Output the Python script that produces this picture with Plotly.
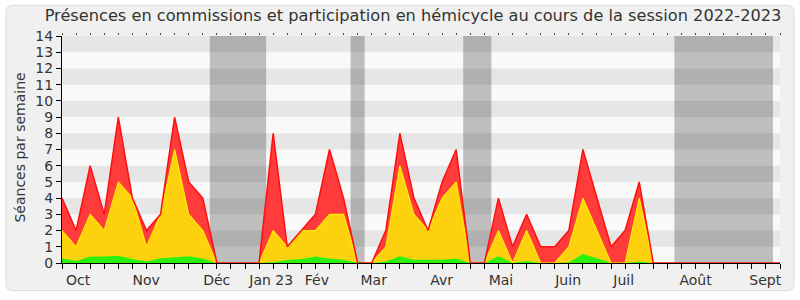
import plotly.graph_objects as go

# ---- data (weekly values, week index 0..51) ----
weeks = list(range(52))
total = [4, 2, 6, 3, 9, 4, 2, 3, 9, 5, 4, 0, 0, 0, 0, 8, 1, 2, 3, 7, 4, 0, 0, 2, 8, 4,
         2, 5, 7, 0, 0, 4, 1, 3, 1, 1, 2, 7, 4, 1, 2, 5, 0, 0, 0, 0, 0, 0, 0, 0, 0, 0]
hemicycle = [2, 1, 3, 2, 5, 4, 1, 3, 7, 3, 2, 0, 0, 0, 0, 2, 1, 2, 2, 3, 3, 0, 0, 1, 6, 3,
             2, 4, 5, 0, 0, 2, 0, 2, 0, 0, 1, 4, 2, 0, 0, 4, 0, 0, 0, 0, 0, 0, 0, 0, 0, 0]
interventions = [0.3, 0.12, 0.4, 0.4, 0.45, 0.25, 0.1, 0.3, 0.35, 0.42, 0.28, 0, 0, 0, 0,
                 0.05, 0.18, 0.25, 0.4, 0.28, 0.2, 0, 0, 0.1, 0.42, 0.2, 0.2, 0.2, 0.28,
                 0, 0, 0.42, 0, 0.12, 0, 0, 0.05, 0.55, 0.3, 0, 0, 0.1,
                 0, 0, 0, 0, 0, 0, 0, 0, 0, 0]
month_pos = [1.14, 5.98, 10.99, 14.86, 18.1, 22.14, 26.96, 31.18, 35.95, 39.9, 45.0, 49.95]
month_labels = ["Oct", "Nov", "Déc", "Jan 23", "Fév", "Mar", "Avr", "Mai", "Juin", "Juil", "Août", "Sept"]
vacations = [(10.5, 14.5), (20.5, 21.5), (28.5, 30.5), (43.5, 50.5)]

W, H = 800, 300
L, R, T, B = 62, 20, 36, 34
PW, PH = W - L - R, H - T - B
FONT = "DejaVu Sans"
TXT = "#333333"


def px2paper(px, py):
    return (px - L) / PW, (H - B - py) / PH


fig = go.Figure()
# filled areas
fig.add_trace(go.Scatter(x=weeks, y=total, mode="lines", fill="tozeroy",
                         line=dict(color="#ff3b3b", width=0), fillcolor="#ff3b3b",
                         hoverinfo="skip", showlegend=False))
fig.add_trace(go.Scatter(x=weeks, y=hemicycle, mode="lines", fill="tozeroy",
                         line=dict(color="#fdd10d", width=0), fillcolor="#fdd10d",
                         hoverinfo="skip", showlegend=False))
fig.add_trace(go.Scatter(x=weeks, y=interventions, mode="lines", fill="tozeroy",
                         line=dict(color="#2cf00e", width=0), fillcolor="#2cf00e",
                         hoverinfo="skip", showlegend=False))
# edge lines
fig.add_trace(go.Scatter(x=weeks, y=hemicycle, mode="lines",
                         line=dict(color="#ffec00", width=1.2),
                         hoverinfo="skip", showlegend=False))
fig.add_trace(go.Scatter(x=weeks, y=total, mode="lines",
                         line=dict(color="#ff1010", width=1.5),
                         hoverinfo="skip", showlegend=False))
# helper traces so overlay axes render
fig.add_trace(go.Scatter(x=[0], y=[0], xaxis="x2", mode="markers", marker=dict(opacity=0),
                         hoverinfo="skip", showlegend=False))
fig.add_trace(go.Scatter(x=[0], y=[0], xaxis="x3", mode="markers", marker=dict(opacity=0),
                         hoverinfo="skip", showlegend=False))

shapes = []
# outer rounded frame
x0, y0 = 6, 5
x1, y1 = 794, 294
r = 7
def P(px, py):
    a, b = px2paper(px, py)
    return f"{a:.5f},{b:.5f}"
path = (f"M {P(x0 + r, y0)} L {P(x1 - r, y0)} Q {P(x1, y0)} {P(x1, y0 + r)} "
        f"L {P(x1, y1 - r)} Q {P(x1, y1)} {P(x1 - r, y1)} "
        f"L {P(x0 + r, y1)} Q {P(x0, y1)} {P(x0, y1 - r)} "
        f"L {P(x0, y0 + r)} Q {P(x0, y0)} {P(x0 + r, y0)} Z")
shapes.append(dict(type="path", path=path, xref="paper", yref="paper", layer="below",
                   fillcolor="#f0f0f0", line=dict(color="#dadada", width=1)))
# plot area background + stripes
shapes.append(dict(type="rect", xref="paper", yref="paper", x0=0, x1=1, y0=0, y1=1,
                   layer="below", fillcolor="#f9f9f9", line=dict(width=0)))
for k in range(1, 14, 2):
    shapes.append(dict(type="rect", xref="paper", yref="y", x0=0, x1=1, y0=k, y1=k + 1,
                       layer="below", fillcolor="#e6e6e6", line=dict(width=0)))
for a, b in vacations:
    shapes.append(dict(type="rect", xref="x", yref="paper", x0=a, x1=b, y0=0, y1=1,
                       layer="below", fillcolor="rgba(25,25,25,0.26)", line=dict(width=0)))

fig.update_layout(
    width=W, height=H,
    margin=dict(l=L, r=R, t=T, b=B, pad=0),
    paper_bgcolor="white", plot_bgcolor="#f9f9f9",
    font=dict(family=FONT, size=14, color=TXT),
    title=dict(text="Présences en commissions et participation en hémicycle au cours de la session 2022-2023",
               x=413 / W, xanchor="center", xref="container", y=1 - 15 / H, yanchor="middle",
               yref="container", font=dict(family=FONT, size=16.2, color=TXT)),
    shapes=shapes,
    xaxis=dict(range=[0, 51], tickmode="array", tickvals=weeks, ticktext=[""] * len(weeks),
               ticks="outside", ticklen=5, tickcolor="black", tickwidth=1, layer="below traces",
               showline=True, linecolor="black", linewidth=1, showgrid=False, zeroline=False,
               fixedrange=True),
    xaxis2=dict(range=[0, 51], overlaying="x", side="bottom", anchor="y", tickmode="array",
                tickvals=month_pos, ticktext=month_labels, ticks="outside", ticklen=4,
                tickcolor="rgba(0,0,0,0)", showline=False, showgrid=False, zeroline=False,
                tickfont=dict(family=FONT, size=14, color=TXT)),
    xaxis3=dict(range=[0, 51], overlaying="x", side="top", anchor="y", tickmode="array",
                tickvals=weeks, ticktext=[""] * len(weeks), ticks="outside", ticklen=2,
                tickcolor="#444444", showline=False, showgrid=False, zeroline=False),
    yaxis=dict(range=[0, 14], tickmode="linear", tick0=0, dtick=1, ticks="outside", ticklen=5,
               tickcolor="black", showline=True, linecolor="black", linewidth=1,
               showgrid=False, zeroline=False, tickfont=dict(family=FONT, size=14, color=TXT)),
    annotations=[dict(text="Séances par semaine", textangle=-90, xref="paper", yref="paper",
                      x=px2paper(20, 0)[0], y=px2paper(0, 149)[1], xanchor="center",
                      yanchor="middle", showarrow=False,
                      font=dict(family=FONT, size=14, color=TXT))],
)

fig.write_html("out.html")
